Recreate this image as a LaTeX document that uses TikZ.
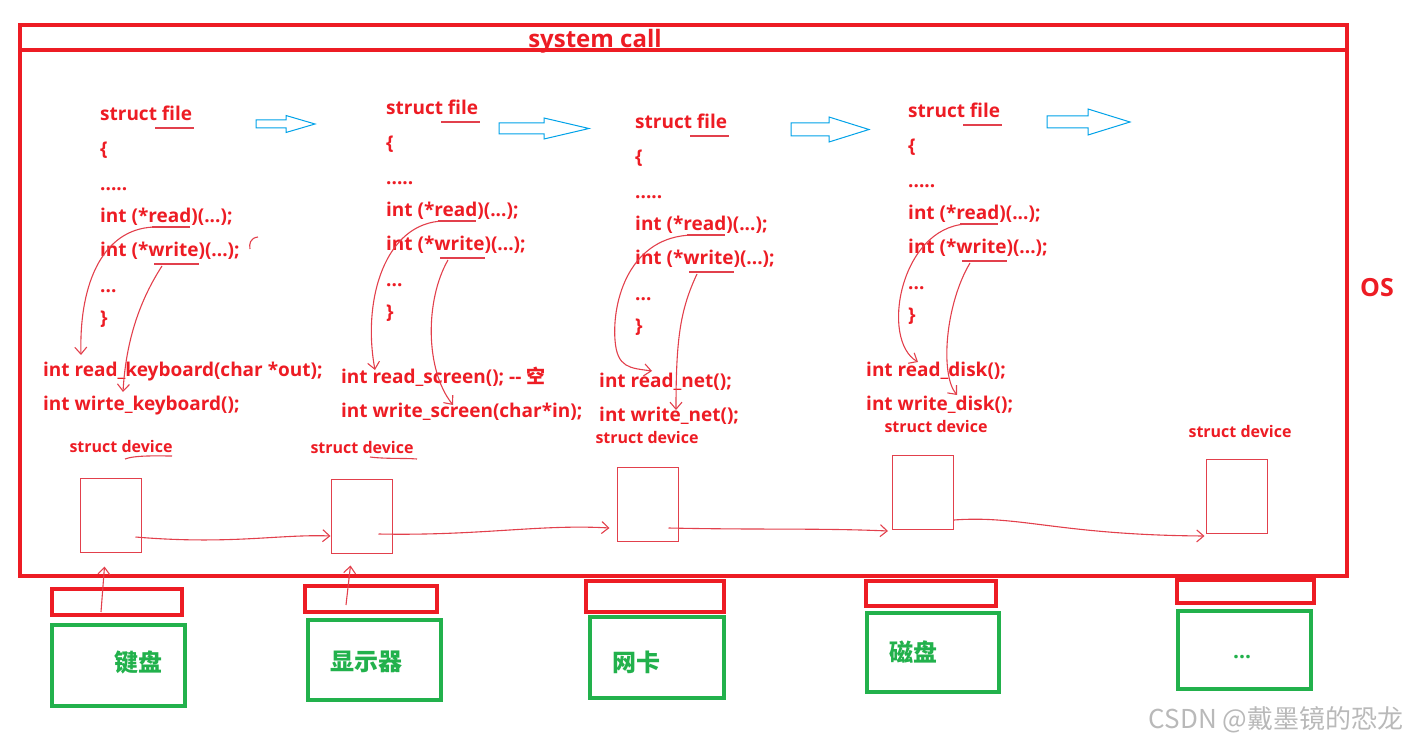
\documentclass[tikz,border=0pt]{standalone}
\usepackage{fontspec}
\setmainfont{Open Sans}
\newfontfamily\cjk{Noto Sans CJK SC}
\usetikzlibrary{arrows.meta,positioning,calc}

\definecolor{osred}{RGB}{237,28,36}
\definecolor{penred}{RGB}{226,64,76}
\definecolor{hwgreen}{RGB}{34,177,76}
\definecolor{arrowblue}{RGB}{0,162,232}
\definecolor{markgray}{RGB}{185,185,185}

\tikzset{
  codeline/.style={anchor=west, inner sep=0, text height=17pt, text depth=2pt,
    text=osred, font=\fontsize{19}{19}\selectfont\bfseries},
  devlabel/.style={inner sep=0, text=osred, font=\fontsize{16}{16}\selectfont\bfseries},
  devbox/.style={draw=penred, line width=1pt, minimum width=61pt, minimum height=74pt, inner sep=0},
  portbox/.style={draw=osred, line width=4pt, inner sep=0},
  hwbox/.style={draw=hwgreen, line width=4pt, inner sep=0},
  hwlabel/.style={inner sep=0, text=hwgreen, font=\cjk\fontsize{24}{24}\selectfont\bfseries},
  pen/.style={draw=penred, line width=1.1pt},
  penarrow/.style={pen, -{Straight Barb[length=7pt,width=12pt]}},
  blockarrow/.style={draw=arrowblue, line width=1pt, fill=white},
}

\begin{document}
\begin{tikzpicture}[x=1pt,y=-1pt]
\useasboundingbox (0,0) rectangle (1414,746);

% the OS frame with the system call band
\draw[osred, line width=4pt] (20,25) rectangle (1347,576);
\draw[osred, line width=4pt] (20,50) -- (1347,50);
\node[inner sep=0, text=osred, font=\fontsize{24}{24}\selectfont\bfseries] (syscall) at (595,41) {system call};
\node[inner sep=0, text=osred, font=\fontsize{25}{25}\selectfont\bfseries] (ostext) at (1377,288) {OS};

% struct file blocks
\foreach \x/\y/\i in {100/113/1,386/107/2,635/121/3,908/110/4}{
  \node[codeline] (file\i) at (\x,\y) {struct file};
  \node[codeline] (open\i) at (\x,\y+35) {\{};
  \node[codeline] (dots\i) at (\x,\y+70) {.....};
  \node[codeline] (read\i) at (\x,\y+102) {int (*read)(...);};
  \node[codeline] (write\i) at (\x,\y+136) {int (*write)(...);};
  \node[codeline] (more\i) at (\x,\y+172) {...};
  \node[codeline] (close\i) at (\x,\y+204) {\}};
  \draw[pen] (\x+55,\y+15) -- (\x+94,\y+15);
  \draw[pen] (\x+52,\y+114) -- (\x+90,\y+114);
  \draw[pen] (\x+54,\y+151) -- (\x+99,\y+151);
  \coordinate (rd\i) at (\x+58,\y+114);
  \coordinate (wr\i) at (\x+62,\y+153);
}

% hollow arrows between the blocks
\foreach \xa/\xb/\xc/\yc/\s/\h in {256/286/315/124/4/8.5,499/544/589/128.5/5.5/10.5,
    791/829/869/129.5/6.5/12.5,1047/1088/1130/122/6/13}
  \draw[blockarrow] (\xa,\yc-\s) -- (\xb,\yc-\s) -- (\xb,\yc-\h) -- (\xc,\yc)
    -- (\xb,\yc+\h) -- (\xb,\yc+\s) -- (\xa,\yc+\s) -- cycle;
\draw[pen] (258,237) .. controls (250,238) and (249,244) .. (250,249);

% driver functions
\node[codeline] (kbread) at (43,369) {int read\_keyboard(char *out);};
\node[codeline] (kbwrite) at (43,403) {int wirte\_keyboard();};
\node[codeline] (scrread) at (341,376) {int read\_screen(); -{}- {\cjk 空}};
\node[codeline] (scrwrite) at (341,410) {int write\_screen(char*in);};
\node[codeline] (netread) at (599,380) {int read\_net();};
\node[codeline] (netwrite) at (599,414) {int write\_net();};
\node[codeline] (dskread) at (866,369) {int read\_disk();};
\node[codeline] (dskwrite) at (866,403) {int write\_disk();};

% read / write pointers to the functions
\draw[penarrow] (rd1) .. controls (105,226) and (79,280) .. ($(kbread.west)+(38,-14)$);
\draw[penarrow] (wr1) .. controls (140,300) and (126,340) .. ($(kbwrite.west)+(80,-11)$);
\draw[penarrow] (rd2) .. controls (385,222) and (362,300) .. ($(scrread.west)+(34,-6)$);
\draw[penarrow] (wr2) .. controls (425,300) and (425,370) .. ($(scrwrite.west)+(112,-5)$);
\draw[penarrow] (rd3) .. controls (630,236) and (612,300) .. (615,340)
  .. controls (617,368) and (630,368) .. ($(netread.west)+(53,-9)$);
\draw[penarrow] (wr3) .. controls (680,310) and (676,340) .. ($(netwrite.west)+(77,-4)$);
\draw[penarrow] (rd4) .. controls (900,228) and (880,340) .. ($(dskread.west)+(52,-7)$);
\draw[penarrow] (wr4) .. controls (945,305) and (940,375) .. ($(dskwrite.west)+(91,-8)$);

% struct device list
\node[devlabel] (dlab1) at (121,446) {struct device};
\node[devlabel] (dlab2) at (362,447) {struct device};
\node[devlabel] (dlab3) at (647,437) {struct device};
\node[devlabel] (dlab4) at (936,426) {struct device};
\node[devlabel] (dlab5) at (1240,431) {struct device};
\draw[pen] (125,459) .. controls (135,455) and (160,456) .. (172,456);
\draw[pen] (370,457) .. controls (385,459) and (405,458) .. (417,459);

\node[devbox] (dev1) at (110.5,515) {};
\node[devbox] (dev2) at (361.5,516) {};
\node[devbox] (dev3) at (647.5,504) {};
\node[devbox] (dev4) at (923,492) {};
\node[devbox] (dev5) at (1236.5,496) {};

\draw[penarrow] ($(dev1.east)+(-6,22)$) .. controls (230,545) and (280,534) .. ($(dev2.west)+(0,20)$);
\draw[penarrow] ($(dev2.east)+(-14,18)$) .. controls (480,536) and (540,524) .. ($(dev3.west)+(-7,24)$);
\draw[penarrow] ($(dev3.east)+(-10,24)$) .. controls (760,530) and (820,528) .. ($(dev4.west)+(-4,39)$);
\draw[penarrow] ($(dev4.east)+(0,28)$) .. controls (1020,515) and (1060,535) .. ($(dev5.west)+(-1,40)$);

% ports and hardware
\node[portbox, minimum width=130pt, minimum height=26pt] (port1) at (117,602) {};
\node[portbox, minimum width=132pt, minimum height=26pt] (port2) at (371,599) {};
\node[portbox, minimum width=138pt, minimum height=31pt] (port3) at (655,596) {};
\node[portbox, minimum width=130pt, minimum height=25pt] (port4) at (931,593) {};
\node[portbox, minimum width=137pt, minimum height=23pt] (port5) at (1245.5,591) {};

\draw[penarrow] ($(port1.center)+(-16,10)$) -- ($(dev1.south)+(-6,14)$);
\draw[penarrow] ($(port2.center)+(-25,6)$) -- ($(dev2.south)+(-11,12)$);

\node[hwbox, minimum width=133pt, minimum height=81pt] (hw1) at (118.5,665.5) {};
\node[hwbox, minimum width=133pt, minimum height=80pt] (hw2) at (374.5,660) {};
\node[hwbox, minimum width=134pt, minimum height=81pt] (hw3) at (657,657.5) {};
\node[hwbox, minimum width=132pt, minimum height=79pt] (hw4) at (933,652.5) {};
\node[hwbox, minimum width=133pt, minimum height=78pt] (hw5) at (1244.5,650) {};
\node[hwlabel] (kb) at (138,662) {键盘};
\node[hwlabel] (scr) at (366,662) {显示器};
\node[hwlabel] (nic) at (636,662) {网卡};
\node[hwlabel] (dsk) at (913,652) {磁盘};
\node[hwlabel, font=\fontsize{21}{21}\selectfont\bfseries] (etc) at (1242,657) {...};

\node[inner sep=0, text=markgray, font=\cjk\fontsize{26}{26}\selectfont] (mark) at (1276,720) {CSDN @戴墨镜的恐龙};
\end{tikzpicture}
\end{document}
